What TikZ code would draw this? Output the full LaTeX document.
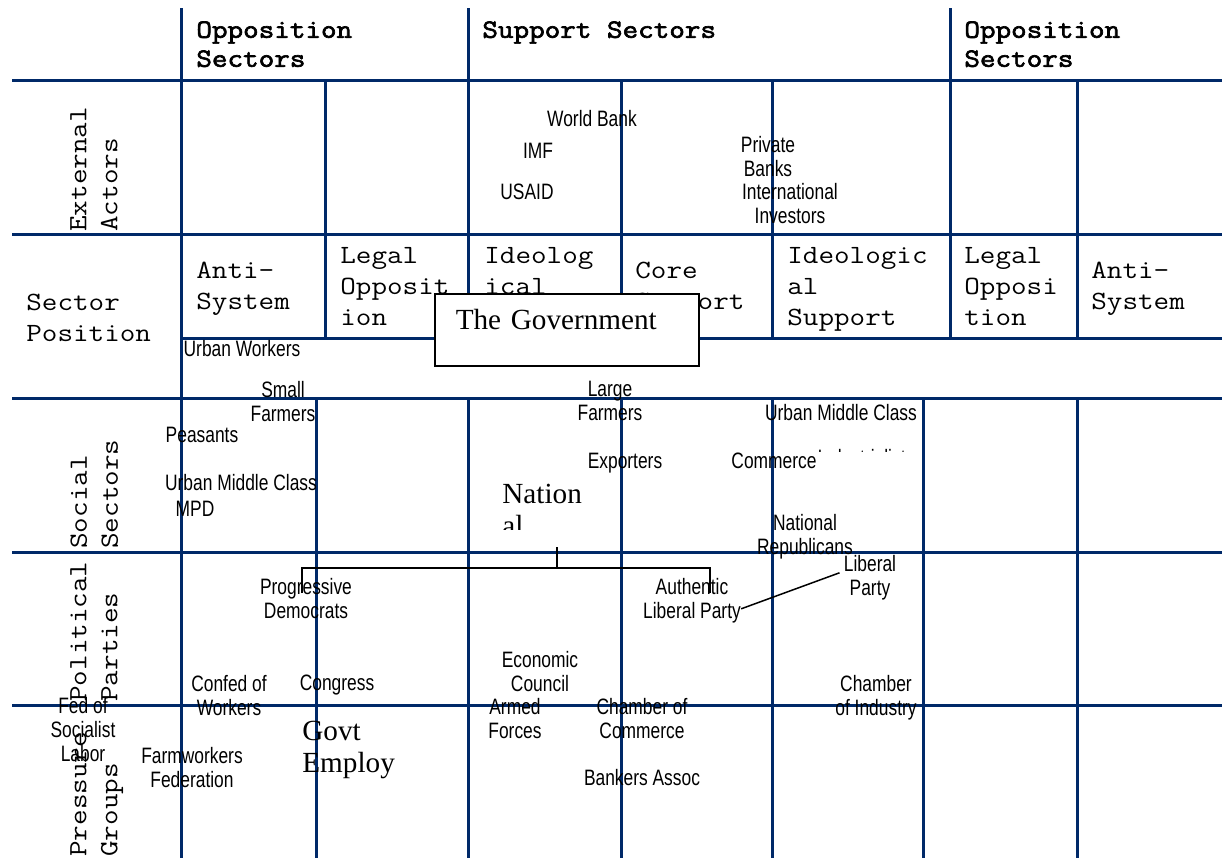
\documentclass[tikz,border=0pt]{standalone}
\usepackage{fontspec}
\setmainfont{Liberation Serif}
\newfontfamily\courmono[FakeStretch=1.15]{Latin Modern Mono}
\newfontfamily\courbold[FakeStretch=1.15,FakeBold=2.5]{Latin Modern Mono}
\newfontfamily\narrowsans[FakeStretch=0.78]{Liberation Sans}
\usepackage{tikz}
\usetikzlibrary{positioning,calc}
\definecolor{gridblue}{RGB}{0,41,104}

\begin{document}
\begin{tikzpicture}[x=0.5pt,y=-0.5pt,
    gridline/.style={gridblue,line width=1.5pt},
    colhead/.style={anchor=north west,inner sep=0pt,align=left,font=\courbold\fontsize{13.15pt}{14.5pt}\selectfont},
    cellhead/.style={anchor=north west,inner sep=0pt,align=left,font=\courmono\fontsize{13.15pt}{15.5pt}\selectfont},
    rowhead/.style={cellhead,rotate=90},
    actor/.style={anchor=north,inner sep=0pt,align=center,font=\narrowsans\fontsize{11.15pt}{12pt}\selectfont},
    body/.style={anchor=north west,inner sep=0pt,align=left,font=\fontsize{14.6pt}{16pt}\selectfont\rmfamily},
    linkline/.style={black,line width=0.75pt}]
    \useasboundingbox (0,0) rectangle (1222,858);

    % Grid
    \foreach \y in {80,234,398,552,705}
        \draw[gridline] (12,\y) -- (1222,\y);
    \draw[gridline] (181,338) -- (1222,338);
    \draw[gridline] (181,8) -- (181,858);
    \foreach \x in {468,950}
        \draw[gridline] (\x,8) -- (\x,338);
    \foreach \x in {325,621,772,1077}
        \draw[gridline] (\x,80) -- (\x,338);
    \foreach \x in {316,468,621,772,923,1077}
        \draw[gridline] (\x,398) -- (\x,858);

    % Column heads
    \node[colhead] (opleft) at (196,21) {Opposition\\Sectors};
    \node[colhead] (support) at (482,21) {Support Sectors};
    \node[colhead] (opright) at (964,21) {Opposition\\Sectors};

    % Row heads
    \node[rowhead] (external) at (70,232) {External\\Actors};
    \node[cellhead] (position) at (26,294) {Sector\\Position};
    \node[rowhead] (social) at (70,549) {Social\\Sectors};
    \node[rowhead] (political) at (70,702) {Political\\Parties};
    \node[rowhead] (pressure) at (70,857) {Pressure\\Groups};

    % Sector positions
    \node[cellhead] (antil) at (196,262) {Anti-\\System};
    \node[cellhead] (legall) at (340,247) {Legal\\Opposit\\ion};
    \node[cellhead] (ideol) at (484,247) {Ideolog\\ical};
    \node[cellhead] (core) at (635,262) {Core\\Support};
    \node[cellhead] (ideor) at (787,247) {Ideologic\\al\\Support};
    \node[cellhead] (legalr) at (964,247) {Legal\\Opposi\\tion};
    \node[cellhead] (antir) at (1091,262) {Anti-\\System};

    % External actors
    \node[actor] (wbank) at (592,110) {World Bank};
    \node[actor] (imf) at (538,143) {IMF};
    \node[actor] (usaid) at (527,184) {USAID};
    \node[actor] (pbanks) at (768,136) {Private\\Banks};
    \node[actor] (investors) at (790,183) {International\\Investors};

    % Social sectors
    \node[actor] (uworkers) at (242,340) {Urban Workers};
    \node[actor] (sfarmers) at (283,381) {Small\\Farmers};
    \node[actor] (lfarmers) at (610,381) {Large\\Farmers};
    \node[actor] (peasants) at (202,427) {Peasants};
    \node[actor] (umcleft) at (241,474) {Urban Middle Class};
    \node[actor] (mpd) at (195,501) {MPD};
    \node[actor] (umcright) at (841,404) {Urban Middle Class};
    \node[actor] (exporters) at (625,453) {Exporters};
    \node[actor] (commerce) at (774,453) {Commerce};
    \begin{scope}
        \clip (815,447) rectangle (915,451);
        \node[actor] (industrial) at (866,449) {Industrialists};
    \end{scope}
    \node[actor] (natrep) at (805,514) {National\\Republicans};
    \begin{scope}
        \clip (490,470) rectangle (620,529);
        \node[body] (nat) at (502,484) {Nation\\al};
    \end{scope}

    % Political parties
    \node[actor] (progdem) at (306,578) {Progressive\\Democrats};
    \node[actor] (authlib) at (692,578) {Authentic\\Liberal Party};
    \node[actor] (libparty) at (870,555) {Liberal\\Party};
    \node[actor] (confed) at (229,675) {Confed of\\Workers};
    \node[actor] (congress) at (337,675) {Congress};
    \node[actor] (econ) at (540,651) {Economic\\Council};
    \node[actor] (chind) at (876,675) {Chamber\\of Industry};

    % Pressure groups
    \node[actor] (fedsoc) at (83,697) {Fed of\\Socialist\\Labor};
    \node[actor] (armed) at (515,698) {Armed\\Forces};
    \node[actor] (chcom) at (642,698) {Chamber of\\Commerce};
    \node[actor] (farmfed) at (192,747) {Farmworkers\\Federation};
    \node[body] (govtemp) at (302,721) {Govt\\Employ};
    \node[actor] (bankers) at (642,769) {Bankers Assoc};

    % The Government
    \node[draw=black,line width=0.75pt,fill=white,anchor=north west,
          inner xsep=10.5pt,inner ysep=0pt,text width=111pt,align=left,
          text height=18pt,text depth=18pt,font=\fontsize{14.6pt}{16pt}\selectfont\rmfamily]
          (govt) at (434,293) {The Government};

    % Links
    \coordinate (natfoot) at (557,547);
    \coordinate (pdtip) at (302,593);
    \coordinate (altip) at (710,593);
    \draw[linkline] (natfoot) -- ++(0,21) coordinate (fork);
    \draw[linkline] (pdtip) |- (fork) -| (altip);
    \draw[linkline] ([yshift=-4pt]authlib.east) -- ([xshift=-2pt,yshift=2.5pt]libparty.west);

\end{tikzpicture}
\end{document}
